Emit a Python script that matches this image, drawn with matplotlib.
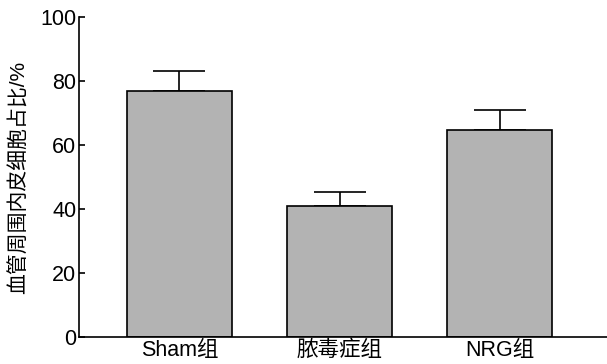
import matplotlib

matplotlib.use("Agg")
import matplotlib.pyplot as plt

plt.rcParams["font.family"] = ["Liberation Sans", "Noto Sans CJK SC", "DejaVu Sans"]

groups = ["Sham组", "脓毒症组", "NRG组"]
means = [77.0, 40.9, 64.7]
errors = [6.0, 4.4, 6.2]
y_ticks = [0, 20, 40, 60, 80, 100]
y_label = "血管周围内皮细胞占比/%"

fig = plt.figure(figsize=(6.07, 3.64), dpi=100)
ax = fig.add_axes([0.130, 0.0742, 0.870, 0.879])

x = list(range(len(groups)))
ax.bar(x, means, width=0.656, color="#b3b3b3", edgecolor="black", linewidth=1.2, zorder=2)
ax.errorbar(
    x,
    means,
    yerr=[[0] * len(errors), errors],
    fmt="none",
    ecolor="black",
    elinewidth=1.2,
    capsize=18.5,
    capthick=1.2,
    zorder=1,
)

ax.set_xlim(-0.628, 2.67)
ax.set_ylim(0, 100)
ax.set_yticks(y_ticks)
ax.set_xticks(x)
ax.set_xticklabels(groups)
ax.tick_params(axis="y", direction="in", length=4.5, width=1.2, labelsize=15.5, pad=2)
ax.tick_params(axis="x", length=0, labelsize=15.5, pad=2)
ax.set_ylabel(y_label, fontsize=15, labelpad=8)

for side in ("top", "right"):
    ax.spines[side].set_visible(False)
for side in ("left", "bottom"):
    ax.spines[side].set_linewidth(1.2)

fig.savefig("out.png", dpi=100)
